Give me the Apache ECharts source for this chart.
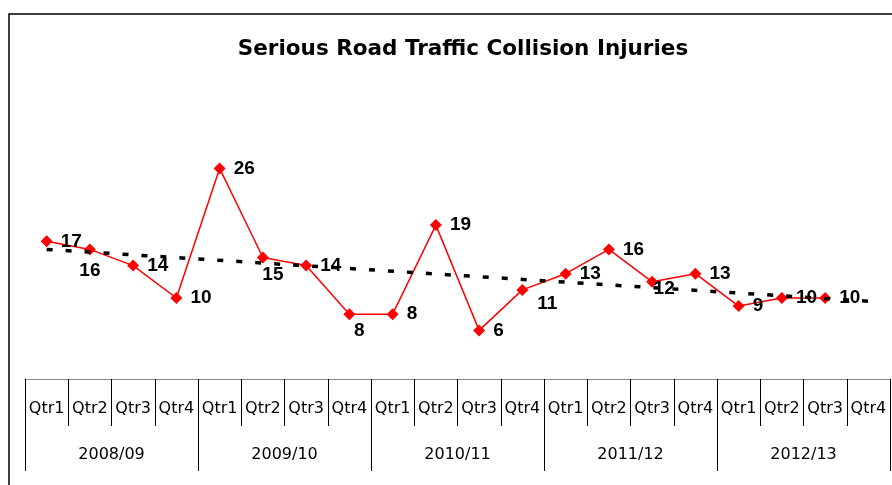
<!DOCTYPE html>
<html>
<head>
<meta charset="utf-8">
<title>Serious Road Traffic Collision Injuries</title>
<script src="https://cdn.jsdelivr.net/npm/echarts@6/dist/echarts.min.js"></script>
<style>
  html, body { margin: 0; padding: 0; background: #fff; }
  #chart { width: 892px; height: 485px; }
</style>
</head>
<body>
<div id="chart"></div>
<script>
const quarters = ['Qtr1', 'Qtr2', 'Qtr3', 'Qtr4', 'Qtr1', 'Qtr2', 'Qtr3', 'Qtr4', 'Qtr1', 'Qtr2',
    'Qtr3', 'Qtr4', 'Qtr1', 'Qtr2', 'Qtr3', 'Qtr4', 'Qtr1', 'Qtr2', 'Qtr3', 'Qtr4']
const years = ['2008/09', '2009/10', '2010/11', '2011/12', '2012/13']
const injuries = [17, 16, 14, 10, 26, 15, 14, 8, 8, 19, 6, 11, 13, 16, 12, 13, 9, 10, 10]
// trend line read at first and last quarter
const trendValues = [16.0, 9.6]

// labels that sit below their point in the original
const labelShift = {
    1: [0, 21],
    5: [10, 17],
    7: [10, 17],
    11: [25, 14],
    14: [12, 7],
}

const myChart = echarts.init(document.getElementById('chart'))

const lineData = injuries.map((v, i) => {
    const shift = labelShift[i]
    if (!shift) return v
    return {
        value: v,
        label: { position: 'inside', offset: shift },
    }
})

myChart.setOption({
    animation: false,
    title: {
        text: 'Serious Road Traffic Collision Injuries',
        left: 458,
        top: 33,
        textAlign: 'center',
        textStyle: {
            fontFamily: 'DejaVu Sans',
            fontWeight: 'bold',
            fontSize: 21.5,
            color: '#000',
        },
    },
    graphic: [
        {
            type: 'polyline',
            shape: { points: [[9, 490], [9, 14], [900, 14]] },
            style: { stroke: '#000', lineWidth: 1.5, fill: null },
        },
    ],
    grid: {
        left: 25,
        right: 2,
        top: 136,
        bottom: 106,
    },
    xAxis: [
        {
            type: 'category',
            data: quarters,
            boundaryGap: true,
            axisLine: { show: true, lineStyle: { color: '#888', width: 1 } },
            axisTick: { show: true, interval: 0, length: 47, lineStyle: { color: '#000' } },
            axisLabel: {
                interval: 0,
                margin: 22,
                color: '#000',
                fontFamily: 'DejaVu Sans',
                fontSize: 16,
            },
        },
        {
            type: 'category',
            data: years,
            position: 'bottom',
            boundaryGap: true,
            axisLine: { show: false },
            axisTick: { show: true, interval: 0, length: 92, lineStyle: { color: '#000' } },
            axisLabel: {
                interval: 0,
                margin: 68,
                color: '#000',
                fontFamily: 'DejaVu Sans',
                fontSize: 16,
            },
        },
    ],
    yAxis: {
        type: 'value',
        min: 0,
        max: 30,
        show: false,
        splitLine: { show: false },
    },
    series: [
        {
            name: 'Injuries',
            type: 'line',
            data: lineData,
            symbol: 'diamond',
            symbolSize: 12,
            itemStyle: { color: '#ff0000' },
            lineStyle: { color: '#ff0000', width: 1.5 },
            label: {
                show: true,
                position: 'right',
                distance: 8,
                color: '#000',
                fontFamily: 'Liberation Sans',
                fontWeight: 'bold',
                fontSize: 19,
            },
            z: 3,
        },
        {
            name: 'Trend',
            type: 'line',
            data: [[0, trendValues[0]], [quarters.length - 1, trendValues[1]]],
            symbol: 'none',
            lineStyle: { color: '#000', width: 3.5, type: [6, 13] },
            z: 4,
        },
    ],
})
</script>
</body>
</html>
